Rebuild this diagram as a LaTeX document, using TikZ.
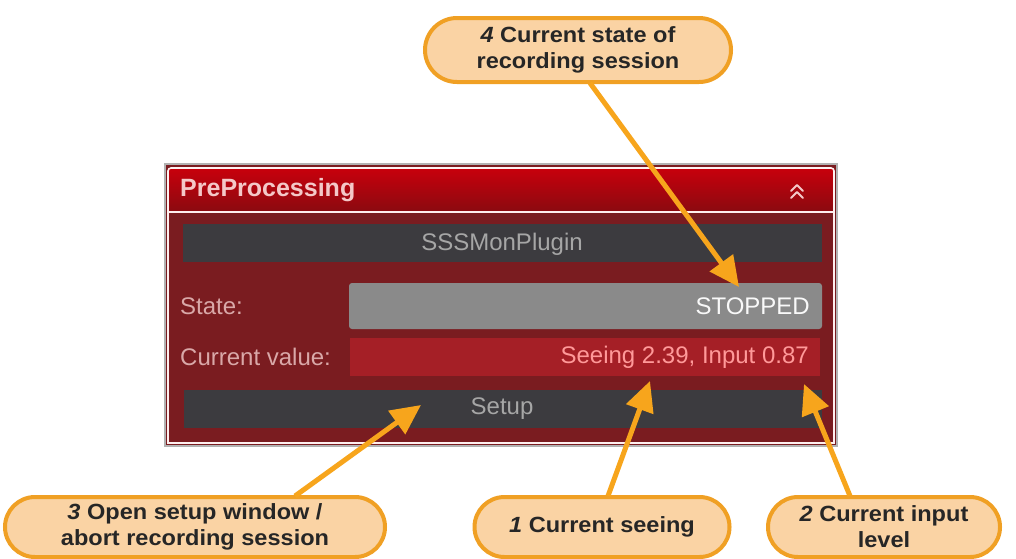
\documentclass[tikz,border=0pt]{standalone}
\usepackage{fontspec}
\setmainfont{Liberation Sans}
\newfontfamily\uifont{Liberation Sans}
\newfontfamily\callfont[FakeStretch=1.07]{Liberation Sans}
\usetikzlibrary{shapes.misc,arrows.meta,calc}
\definecolor{calloutfill}{HTML}{FAD3A4}
\definecolor{calloutdraw}{HTML}{F0A024}
\definecolor{arroworange}{HTML}{F7A51C}
\definecolor{panelbody}{HTML}{7A1C20}
\definecolor{headtop}{HTML}{C8000C}
\definecolor{headbot}{HTML}{8A0A10}
\definecolor{darkbar}{HTML}{3C3B3F}
\definecolor{graybar}{HTML}{8A8A8A}
\definecolor{redbar}{HTML}{A51F26}
\definecolor{labeltext}{HTML}{D9A8A8}
\definecolor{titletext}{HTML}{F4C8C8}
\begin{document}
\begin{tikzpicture}[x=1pt,y=-1pt,
  callout/.style={rounded rectangle, draw=calloutdraw, fill=calloutfill, line width=4pt,
    font=\callfont\fontsize{22}{26}\selectfont\bfseries, text=black!85, align=center, inner sep=0pt},
  pointer/.style={draw=arroworange, line width=5pt, -{Triangle[length=30pt,width=28pt]}},
  uitext/.style={font=\uifont\fontsize{24}{26}\selectfont, inner sep=0pt},
  chevron/.style={draw=titletext, line width=2pt, line cap=round, line join=round}
]
\useasboundingbox[fill=white] (0,0) rectangle (1016,558);

% panel
\fill[gray!60] (164,163) rectangle (838,447);
\fill[panelbody] (166,165) rectangle (836,445);
\shade[top color=headtop, bottom color=headbot] (168,168) rectangle (834,212);
\draw[white!80!pink, line width=1.6pt, rounded corners=3pt] (168,212) -- (168,168) -- (834,168) -- (834,212);
\draw[white!75!pink, line width=1.6pt] (168,212) -- (834,212);
\draw[white!75!pink, line width=1.6pt] (168,212) -- (168,443) -- (834,443) -- (834,212);
\node[uitext, font=\uifont\fontsize{25}{27}\selectfont\bfseries, text=titletext, anchor=west] (title) at (180,190) {PreProcessing};
\coordinate (chev) at (797,185);
\draw[chevron] ($(chev)+(-6,6)$) -- (chev) -- ($(chev)+(6,6)$);
\draw[chevron] ($(chev)+(-6,13)$) -- ($(chev)+(0,7)$) -- ($(chev)+(6,13)$);

\fill[darkbar] (183,224) rectangle (822,262);
\node[uitext, text=gray!70] (plugin) at (502,244) {SSSMonPlugin};

\node[uitext, text=labeltext, anchor=west] (statelbl) at (180,306) {State:};
\fill[graybar, rounded corners=3pt] (349,283) rectangle (822,329);
\coordinate (statebar) at (810,306);
\node[uitext, text=white!95!gray, anchor=east] (state) at (statebar) {STOPPED};

\node[uitext, text=labeltext, anchor=west] (curlbl) at (180,357) {Current value:};
\fill[redbar] (350,338) rectangle (820,376);
\node[uitext, text=red!40!white, anchor=east] (curval) at (809,357) {Seeing 2.39, Input 0.87};

\fill[darkbar] (184,390) rectangle (822,428);
\node[uitext, text=gray!70] (setup) at (502,409) {Setup};

% targets
\coordinate (t4) at (739,287);
\coordinate (t3) at (421,405);
\coordinate (t1) at (650,381);
\coordinate (t2) at (804,384);

% callouts
\node[callout, minimum width=306pt, minimum height=64pt] (c4) at (578,50) {\textit{4} Current state of\\recording session};
\node[callout, minimum width=380pt, minimum height=60pt] (c3) at (195,527) {\textit{3} Open setup window /\\abort recording session};
\node[callout, minimum width=255pt, minimum height=60pt] (c1) at (602,527) {\textit{1} Current seeing};
\node[callout, minimum width=232pt, minimum height=60pt] (c2) at (884,527) {\textit{2} Current input\\level};

% pointers
\draw[pointer] ([xshift=12pt,yshift=1pt]c4.south) -- (t4);
\draw[pointer] ([xshift=100pt,yshift=-1pt]c3.north) -- (t3);
\draw[pointer] ([xshift=6pt,yshift=-1pt]c1.north) -- (t1);
\draw[pointer] ([xshift=-34pt,yshift=-1pt]c2.north) -- (t2);
\end{tikzpicture}
\end{document}
